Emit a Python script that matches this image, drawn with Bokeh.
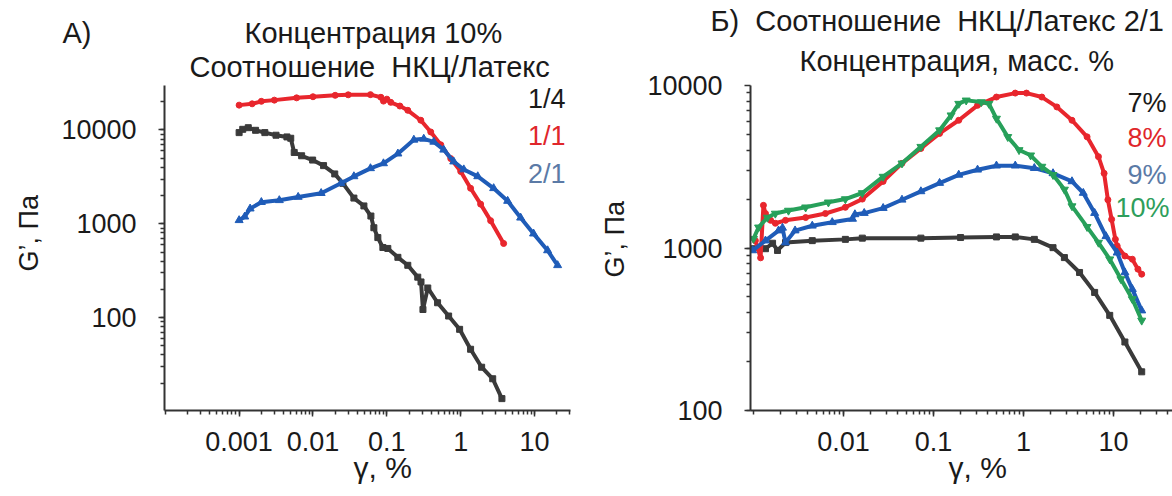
from bokeh.plotting import figure
from bokeh.layouts import row
from bokeh.models import Range1d, FixedTicker, CustomJSTickFormatter, Label, Title
from bokeh.embed import file_html
from bokeh.resources import INLINE

# ---------------- Panel A data (concentration 10%) ----------------
a14_x = [0.001, 0.00112, 0.00133, 0.00167, 0.00223, 0.00316, 0.00444, 0.0050, 0.00557, 0.00702,
         0.00989, 0.0139, 0.0197, 0.0254, 0.0358, 0.0489, 0.0608, 0.0667, 0.0755, 0.0883, 0.103,
         0.141, 0.192, 0.262, 0.29, 0.308, 0.358, 0.486, 0.686, 0.966, 1.36, 1.92, 2.71, 3.61]
a14_y = [9370, 10160, 10580, 9920, 9370, 8790, 8430, 8160, 5760, 5310,
         4780, 4170, 3400, 2700, 1880, 1550, 1210, 908, 713, 559, 546,
         439, 361, 270, 240, 122, 207, 144, 104, 75, 46, 29.6, 22.3, 13.7]

a11_x = [0.001, 0.0015, 0.002, 0.003, 0.006, 0.01, 0.02, 0.03, 0.06, 0.083, 0.09, 0.1, 0.113,
         0.15, 0.192, 0.288, 0.393, 0.537, 0.733, 1.0, 1.36, 1.86, 2.54, 3.81]
a11_y = [18400, 19000, 20200, 20800, 22000, 22600, 23400, 23700, 23800, 22300, 20300, 21300, 19700,
         18000, 16200, 12700, 9520, 6950, 4950, 3610, 2390, 1620, 1080, 617]

a21_x = [0.001, 0.00119, 0.00141, 0.002, 0.0035, 0.0063, 0.0129, 0.0239, 0.0358, 0.06, 0.09,
         0.141, 0.232, 0.316, 0.432, 0.589, 0.804, 1.10, 1.70, 2.79, 4.32, 6.47, 9.68, 15.0, 20.5]
a21_y = [1090, 1190, 1450, 1700, 1780, 1930, 2120, 2700, 3200, 3900, 4400,
         5590, 7850, 8040, 7470, 6150, 4600, 3790, 3200, 2390, 1750, 1160, 785, 520, 361]

# ---------------- Panel B data (ratio 2/1) ----------------
b7_x = [0.00098, 0.00136, 0.00163, 0.00185, 0.00227, 0.0045, 0.0105, 0.0162, 0.0725, 0.2, 0.501,
        0.811, 1.32, 2.13, 2.85, 4.20, 6.18, 9.09, 13.4, 20.6]
b7_y = [990, 990, 1070, 966, 1080, 1110, 1130, 1150, 1150, 1160, 1170,
        1170, 1130, 1005, 873, 707, 533, 385, 264, 173]

b8_x = [0.00105, 0.0012, 0.00129, 0.00136, 0.00155, 0.00175, 0.00227, 0.0038, 0.0063, 0.0105,
        0.0162, 0.0276, 0.0447, 0.0725, 0.117, 0.191, 0.309, 0.501, 0.811, 1.08, 1.60, 2.35,
        3.46, 5.09, 6.81, 7.87, 8.67, 9.54, 10.5, 11.0, 13.4, 16.2, 18.7, 20.6]
b8_y = [1110, 870, 1830, 1630, 1480, 1420, 1480, 1540, 1630, 1780,
        2000, 2570, 3320, 4100, 5070, 6110, 7550, 8490, 8980, 8980, 8490, 7380,
        6110, 4830, 3650, 2880, 1980, 1500, 1130, 1030, 893, 853, 741, 690]

b9_x = [0.00098, 0.00136, 0.0019, 0.0021, 0.00227, 0.0029, 0.0045, 0.0075, 0.0126, 0.0134, 0.017,
        0.0276, 0.0447, 0.0725, 0.117, 0.191, 0.309, 0.501, 0.811, 1.32, 2.13, 3.46, 4.62, 6.18,
        8.26, 11.0, 13.4, 16.2, 20.6]
b9_y = [966, 1110, 1280, 1330, 1080, 1280, 1370, 1440, 1510, 1610, 1640,
        1760, 1980, 2230, 2510, 2820, 3030, 3210, 3210, 3100, 2880, 2570, 2180, 1640,
        1180, 935, 707, 558, 412]

b10_x = [0.001, 0.00114, 0.00143, 0.00175, 0.00245, 0.0038, 0.0068, 0.0105, 0.0162, 0.0276,
         0.0447, 0.0725, 0.117, 0.157, 0.191, 0.231, 0.340, 0.413, 0.501, 0.669, 0.893, 1.20,
         1.60, 2.13, 2.85, 3.46, 5.09, 6.81, 9.09, 12.1, 16.2, 20.6]
b10_y = [1140, 1340, 1540, 1630, 1700, 1780, 1910, 2000, 2180, 2750,
         3320, 4200, 5310, 6560, 7730, 8100, 7910, 7730, 6260, 4830, 4010, 3720,
         3170, 2820, 2290, 1810, 1350, 1080, 853, 644, 485, 358]

x_ticks_a = [0.001, 0.01, 0.1, 1, 10]
x_ticks_b = [0.01, 0.1, 1, 10]
y_ticks = [100, 1000, 10000]

FONT = "Liberation Sans"
TXT = "#1a1a1a"
BLACK = "#3a3a3a"
RED = "#e8262d"
BLUE = "#1f5cb8"
GREEN = "#27a05a"
NB = "\u00a0"


def minor_ticks(lo_exp, hi_exp):
    return [m * 10 ** e for e in range(lo_exp, hi_exp + 1) for m in range(1, 10)]


def make_fig(xr, yr, borders, xt, xminor, yminor):
    left, right, top, bottom = borders
    p = figure(width=586, height=496, x_axis_type="log", y_axis_type="log",
               x_range=Range1d(*xr), y_range=Range1d(*yr),
               output_backend="svg", toolbar_location=None,
               min_border_left=left, min_border_right=right,
               min_border_top=top, min_border_bottom=bottom)
    p.outline_line_color = None
    p.xgrid.visible = False
    p.ygrid.visible = False
    p.background_fill_color = "white"
    p.border_fill_color = "white"
    p.xaxis.ticker = FixedTicker(ticks=xt, minor_ticks=xminor)
    p.yaxis.ticker = FixedTicker(ticks=y_ticks, minor_ticks=yminor)
    fmt = CustomJSTickFormatter(code="return tick.toString();")
    for ax in (p.xaxis, p.yaxis):
        ax.formatter = fmt
        ax.axis_line_color = "#333333"
        ax.axis_line_width = 2
        ax.major_tick_line_color = "#333333"
        ax.minor_tick_line_color = "#333333"
        ax.major_tick_line_width = 1.5
        ax.minor_tick_line_width = 1.5
        ax.major_tick_in = 0
        ax.major_tick_out = 6
        ax.minor_tick_in = 0
        ax.minor_tick_out = 4
        ax.major_label_text_font = FONT
        ax.major_label_text_font_size = "27px"
        ax.major_label_text_color = TXT
    p.xaxis.major_label_standoff = 15
    p.yaxis.major_label_standoff = 22
    return p


def series(p, xs, ys, color, marker, size):
    p.line(xs, ys, line_color=color, line_width=4)
    p.scatter(xs, ys, marker=marker, size=size, fill_color=color, line_color=color)


def lab(p, x, y, text, color):
    p.add_layout(Label(x=x, y=y, x_units="screen", y_units="screen", text=text,
                       text_font=FONT, text_font_size="27px", text_color=color,
                       text_align="right", text_baseline="middle"))


def ttl(p, text, side, offset, standoff, valign="bottom", size="29px"):
    p.add_layout(Title(text=text, align="left", offset=offset, standoff=standoff,
                       vertical_align=valign, text_font=FONT, text_font_size=size,
                       text_font_style="normal", text_color=TXT), side)


# ---------------- Panel A ----------------
pa = make_fig((10 ** -4.01, 10 ** 1.486), (10 ** 1.01, 10 ** 4.474), (163, 16, 83, 84),
              x_ticks_a, minor_ticks(-4, 1), minor_ticks(1, 4))
series(pa, a14_x, a14_y, BLACK, "square", 6)
series(pa, a11_x, a11_y, RED, "circle", 6)
series(pa, a21_x, a21_y, BLUE, "triangle", 8)

ttl(pa, "Соотношение" + NB + " НКЦ/Латекс", "above", 25, 6)
ttl(pa, "А)" + NB * 19 + "Концентрация 10%", "above", -102, -6)
ttl(pa, "γ, %", "below", 189, -6, valign="top", size="30px")
ttl(pa, "G’, Па", "left", 139, 26, valign="top", size="27px")
lab(pa, 401, 312, "1/4", TXT)
lab(pa, 401, 275, "1/1", "#e0262b")
lab(pa, 401, 237, "2/1", "#5b7aa6")

# ---------------- Panel B ----------------
pb = make_fig((10 ** -3.033, 10 ** 1.656), (100, 10000), (164, 0, 85, 86),
              x_ticks_b, minor_ticks(-3, 1), minor_ticks(2, 3))
series(pb, b7_x, b7_y, BLACK, "square", 6)
series(pb, b8_x, b8_y, RED, "circle", 6)
series(pb, b9_x, b9_y, BLUE, "triangle", 8)
series(pb, b10_x, b10_y, GREEN, "inverted_triangle", 8)

ttl(pb, "Концентрация, масс. %", "above", 49, 14, valign="top")
ttl(pb, "Б)" + NB + " Соотношение" + NB + " НКЦ/Латекс 2/1", "above", -40, 2)
ttl(pb, "γ, %", "below", 198, -6, valign="top", size="30px")
ttl(pb, "G’, Па", "left", 133, 26, valign="top", size="27px")
lab(pb, 416, 308, "7%", TXT)
lab(pb, 416, 273, "8%", "#e0262b")
lab(pb, 416, 236, "9%", "#5b7aa6")
lab(pb, 419, 203, "10%", "#2e9e5b")

layout = row(pa, pb)
open("out.html", "w").write(file_html(layout, INLINE))
